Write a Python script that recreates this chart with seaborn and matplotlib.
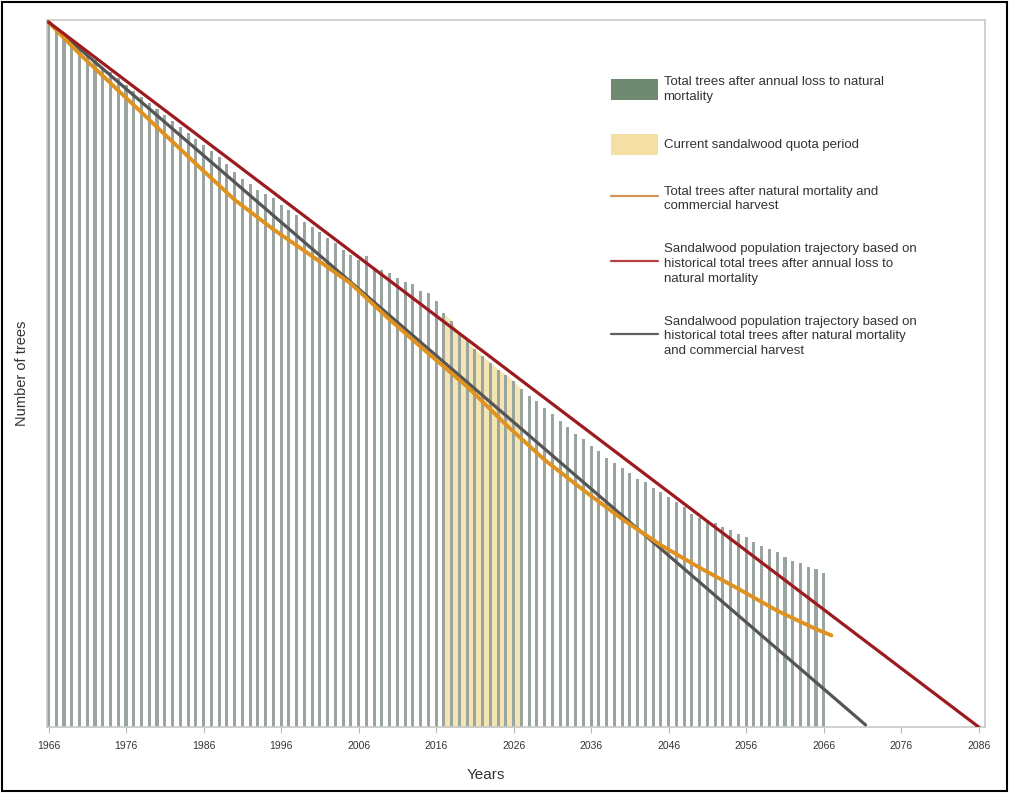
import matplotlib
matplotlib.use("Agg")
import matplotlib.pyplot as plt
import seaborn as sns
from matplotlib.patches import Patch, Rectangle
from matplotlib.lines import Line2D

# bars: total trees after annual loss to natural mortality (relative units)
years = list(range(1966, 2067))
bar_values = [
    100.0, 99.0, 98.2, 97.3, 96.4, 95.4, 94.6, 93.7, 92.9, 92.0,
    91.1, 90.2, 89.4, 88.5, 87.7, 86.8, 86.0, 85.1, 84.2, 83.4,
    82.5, 81.7, 80.8, 79.9, 78.7, 77.8, 77.1, 76.2, 75.6, 75.0,
    74.1, 73.4, 72.7, 71.7, 70.9, 70.2, 69.4, 68.6, 67.7, 67.0,
    66.3, 66.8, 65.1, 64.9, 64.4, 63.7, 63.2, 62.8, 61.8, 61.6,
    60.4, 58.7, 57.6, 55.7, 54.7, 53.6, 52.6, 51.7, 50.7, 50.0,
    49.1, 47.9, 47.0, 46.2, 45.3, 44.4, 43.4, 42.5, 41.5, 40.8,
    39.9, 39.2, 38.2, 37.5, 36.8, 36.1, 35.2, 34.7, 33.9, 33.3,
    32.6, 31.9, 31.2, 30.2, 29.7, 29.3, 29.0, 28.4, 28.0, 27.4,
    26.9, 26.2, 25.7, 25.3, 24.8, 24.1, 23.6, 23.2, 22.7, 22.4, 21.8,
]

# current quota period
quota_start = 2017
quota_end = 2027

# orange: natural mortality + commercial harvest
harvest_years = [1966, 1970, 1975, 1980, 1985, 1990, 1995, 2000, 2005, 2010, 2015,
                 2020, 2025, 2030, 2035, 2040, 2045, 2050, 2055, 2060, 2065, 2067]
harvest_values = [100.0, 95.5, 90.3, 85.1, 79.9, 74.8, 70.6, 66.8, 62.9, 57.8, 53.0,
                  48.3, 42.9, 37.9, 33.6, 29.5, 25.8, 22.6, 19.6, 16.5, 13.9, 13.0]

# trajectories
red_years = [1966, 2086]
red_values = [100.0, 0.0]
gray_years = [1966, 2071.4]
gray_values = [100.0, 0.3]

xtick_years = [1966, 1976, 1986, 1996, 2006, 2016, 2026, 2036, 2046, 2056, 2066, 2076, 2086]

legend_labels = [
    "Total trees after annual loss to natural\nmortality",
    "Current sandalwood quota period",
    "Total trees after natural mortality and\ncommercial harvest",
    "Sandalwood population trajectory based on\nhistorical total trees after annual loss to\nnatural mortality",
    "Sandalwood population trajectory based on\nhistorical total trees after natural mortality\nand commercial harvest",
]

sns.set_style("white")
plt.rcParams['font.family'] = ['Liberation Sans', 'DejaVu Sans']

fig = plt.figure(figsize=(10.1, 7.93), dpi=100)
ax = fig.add_axes([0.0465, 0.0832, 0.9287, 0.8916])

# yellow quota area under the bars
q_idx = [i for i, y in enumerate(years) if quota_start <= y <= quota_end]
ax.fill_between([years[i] for i in q_idx], [bar_values[i] for i in q_idx], 0,
                color="#f4e4b2", lw=0, zorder=1)

sns.barplot(x=years, y=bar_values, native_scale=True, width=0.4, color="#99a59e",
            saturation=1, errorbar=None, ax=ax, zorder=2, linewidth=0)

sns.lineplot(x=harvest_years, y=harvest_values, color="#e0921e", lw=2.8, ax=ax, zorder=4)
sns.lineplot(x=gray_years, y=gray_values, color="#555555", lw=2.3, ax=ax, zorder=3)
sns.lineplot(x=red_years, y=red_values, color="#9c1b1f", lw=2.3, ax=ax, zorder=5)

ax.set_xlim(1965.8, 2086.8)
ax.set_ylim(0, 100.3)
ax.set_xticks(xtick_years)
ax.set_xticklabels([str(y) for y in xtick_years], fontsize=7.5, color="#333333")
ax.set_yticks([])
ax.tick_params(axis="x", direction="out", length=4, color="#bbbbbb", pad=6, bottom=True)
for s in ax.spines.values():
    s.set_color("#c8c8c8")
    s.set_linewidth(1.2)

ax.set_xlabel("Years", fontsize=11, color="#333333", labelpad=10)
ax.xaxis.set_label_coords(0.468, -0.058)
ax.set_ylabel("Number of trees", fontsize=10.5, color="#333333", labelpad=13)

handles = [
    Patch(facecolor="#6f8a70", edgecolor="none"),
    Patch(facecolor="#f4dfa5", edgecolor="none"),
    Line2D([], [], color="#d4935a", lw=1.6),
    Line2D([], [], color="#b5403f", lw=1.6),
    Line2D([], [], color="#5f5f5f", lw=1.6),
]
leg = ax.legend(handles, legend_labels, loc="upper left", bbox_to_anchor=(0.594, 0.93),
                frameon=False, fontsize=9.5, handlelength=3.6, handleheight=2.05,
                handletextpad=0.4, labelspacing=2.35, borderpad=0)
for t in leg.get_texts():
    t.set_color("#333333")
    t.set_linespacing(1.3)

fig.patches.append(Rectangle((0.002, 0.003), 0.995, 0.994, transform=fig.transFigure,
                             fill=False, edgecolor="black", lw=1.5))

fig.savefig("out.png", dpi=100)
